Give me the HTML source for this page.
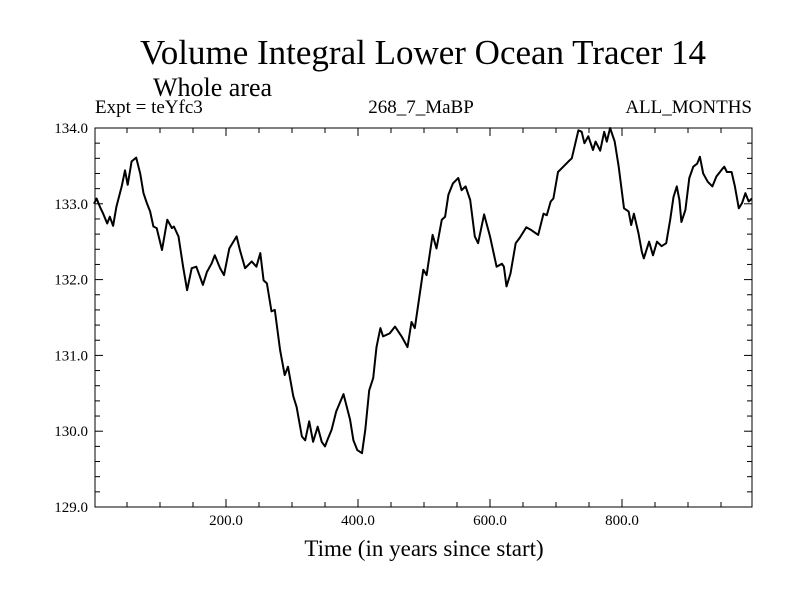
<!DOCTYPE html>
<html><head><meta charset="utf-8"><style>
body{margin:0;background:#fff}
svg text{font-family:"Liberation Serif",serif;fill:#000}
</style></head><body>
<svg id="chart" width="800" height="600" xmlns="http://www.w3.org/2000/svg">
<rect width="800" height="600" fill="#fff"/>
<text x="423" y="64" font-size="35" text-anchor="middle">Volume Integral Lower Ocean Tracer 14</text>
<text x="153" y="96" font-size="26">Whole area</text>
<text x="95" y="113" font-size="19">Expt = teYfc3</text>
<text x="421" y="113" font-size="19" text-anchor="middle">268_7_MaBP</text>
<text x="752" y="113" font-size="19" text-anchor="end">ALL_MONTHS</text>
<text x="424" y="556" font-size="23" text-anchor="middle">Time (in years since start)</text>
<g id="axes"></g>
<path id="series" fill="none" stroke="#000" stroke-width="2" stroke-linejoin="round"/>
</svg>
<script>
const years=[0,4,9,14,20,24,29,34,42,47,51,57,64,70,75,80,85,90,95,103,111,118,121,128,135,141,148,155,165,171,178,183,191,197,205,216,221,229,239,246,252,257,262,269,274,282,289,294,302,307,315,320,326,332,339,345,350,354,360,367,378,388,393,399,406,411,417,423,428,434,438,448,456,466,475,481,486,499,504,513,519,527,532,537,544,552,557,563,570,577,582,591,600,610,618,621,625,631,639,645,655,663,673,681,686,692,696,703,711,719,724,734,739,743,749,756,760,767,773,777,782,789,795,803,810,814,818,825,830,833,841,847,853,860,867,873,878,883,887,890,896,902,908,914,918,923,930,937,943,951,955,959,966,971,977,982,987,992,997];
const values=[133.0,133.07,132.96,132.87,132.74,132.83,132.71,132.96,133.23,133.44,133.25,133.56,133.61,133.40,133.14,133.01,132.9,132.70,132.68,132.39,132.79,132.68,132.70,132.57,132.17,131.86,132.15,132.17,131.93,132.10,132.21,132.32,132.15,132.06,132.41,132.57,132.39,132.15,132.24,132.17,132.35,131.99,131.95,131.58,131.60,131.07,130.74,130.85,130.46,130.32,129.93,129.88,130.13,129.86,130.06,129.86,129.80,129.89,130.02,130.26,130.49,130.15,129.88,129.75,129.71,130.02,130.54,130.70,131.11,131.36,131.25,131.29,131.38,131.25,131.11,131.44,131.36,132.13,132.06,132.59,132.41,132.79,132.83,133.12,133.27,133.34,133.18,133.23,133.05,132.57,132.48,132.86,132.57,132.17,132.21,132.17,131.91,132.08,132.48,132.55,132.69,132.65,132.59,132.87,132.85,133.03,133.07,133.42,133.49,133.56,133.60,133.97,133.95,133.80,133.89,133.71,133.82,133.70,133.95,133.82,134.0,133.82,133.49,132.94,132.90,132.72,132.87,132.61,132.37,132.28,132.50,132.32,132.50,132.44,132.48,132.79,133.09,133.23,133.05,132.76,132.92,133.34,133.49,133.53,133.62,133.40,133.29,133.23,133.36,133.45,133.49,133.42,133.42,133.23,132.94,133.01,133.14,133.03,133.07];
const xTickLabels=[200,400,600,800];
const yTickLabels=[129,130,131,132,133,134];
const L=95,R=752,T=128,B=507;
const X=t=>94+0.66*t;
const Y=v=>T+(134-v)*(B-T)/5;
const NS="http://www.w3.org/2000/svg";
const ax=document.getElementById('axes');
function mk(tag,attrs){const e=document.createElementNS(NS,tag);for(const k in attrs)e.setAttribute(k,attrs[k]);ax.appendChild(e);return e;}
const frame=mk('rect',{x:L,y:T,width:R-L,height:B-T,fill:'none',stroke:'#000','stroke-width':1});


for(let t=50;t<1000;t+=50){const big=t%200===0;const len=big?8:5;const x=X(t);
 const a=mk('line',{x1:x,x2:x,y1:B,y2:B-len,stroke:'#000'});
 
 
 const b=mk('line',{x1:x,x2:x,y1:T,y2:T+len,stroke:'#000'});
 
 }
for(let i=0;i<=25;i++){const v=129+i*0.2;const y=Y(v);const big=i%5===0;const len=big?8:5;
 const a=mk('line',{x1:L,x2:L+len,y1:y,y2:y,stroke:'#000'});
 
 
 const b=mk('line',{x1:R,x2:R-len,y1:y,y2:y,stroke:'#000'});
 
 }
xTickLabels.forEach(t=>{const e=mk('text',{x:X(t),y:B+18,'font-size':15,'text-anchor':'middle'});e.textContent=t.toFixed(1);
 
 });
yTickLabels.forEach(v=>{const e=mk('text',{x:88,y:Y(v)+5,'font-size':15,'text-anchor':'end'});e.textContent=v.toFixed(1);
 
 });
document.getElementById('series').setAttribute('d',years.map((t,i)=>(i?'L':'M')+X(t).toFixed(1)+','+Y(values[i]).toFixed(1)).join(''));
</script>
</body></html>
